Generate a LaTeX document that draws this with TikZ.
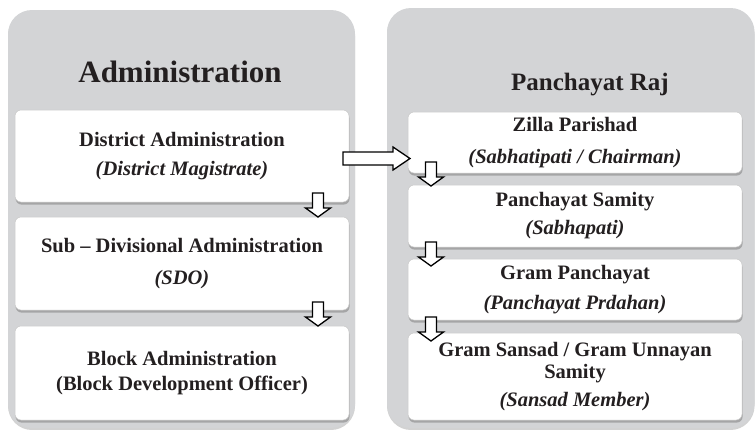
\documentclass[tikz,border=0pt]{standalone}
\usepackage{fontspec}
\setmainfont{Liberation Serif}
\usetikzlibrary{shadows}
\definecolor{panelgray}{HTML}{D3D4D6}
\definecolor{inkc}{HTML}{231F20}
\tikzset{
  panel/.style={fill=panelgray, draw=none, rounded corners=24pt,
    drop shadow={shadow xshift=0pt, shadow yshift=-2pt, fill=black!35, opacity=.5}},
  box/.style={fill=white, draw=black!22, line width=0.5pt, rounded corners=6pt,
    inner sep=0pt, align=center, text=inkc,
    font=\fontsize{20.5}{24}\selectfont\bfseries, minimum width=334pt,
    drop shadow={shadow xshift=0.6pt, shadow yshift=-2.6pt, fill=black!50, opacity=.55}},
  title/.style={anchor=base, text=inkc, inner sep=0pt},
  hollow/.style={draw=black, fill=white, line width=1.3pt, line join=miter},
  downarr/.pic={
    \draw[hollow] (-5.5,0) -- (5.5,0) -- (5.5,15) -- (12.5,15) -- (0,24)
      -- (-12.5,15) -- (-5.5,15) -- cycle;
  },
}
\newcommand{\sub}[1]{{\itshape #1}}
\begin{document}
\begin{tikzpicture}[x=1pt, y=-1pt]
  \useasboundingbox (0,0) rectangle (755,429);

  % the two grey columns
  \path[panel] (8,10) rectangle (355,428);
  \path[panel] (387,8) rectangle (754.5,428);

  \node[title, font=\fontsize{31}{36}\selectfont\bfseries] (tadm) at (180,82) {Administration};
  \node[title, font=\fontsize{25}{30}\selectfont\bfseries] (tpr) at (590,90) {Panchayat Raj};

  % administration column
  \node[box, minimum height=92pt] (a1) at (182,156)
    {District Administration\\[5pt]\sub{(District Magistrate)}};
  \node[box, minimum height=93pt] (a2) at (182,263.5)
    {Sub -- Divisional Administration\\[8pt]\sub{(SDO)}};
  \node[box, minimum height=94pt] (a3) at (182,373)
    {Block Administration\\[1pt](Block Development Officer)};

  % panchayat raj column
  \node[box, minimum height=61pt] (r1) at (575,142.5)
    {Zilla Parishad\\[8pt]\sub{(Sabhatipati / Chairman)}};
  \node[box, minimum height=62pt] (r2) at (575,216)
    {Panchayat Samity\\[4pt]\sub{(Sabhapati)}};
  \node[box, minimum height=61pt] (r3) at (575,289.5)
    {Gram Panchayat\\[6pt]\sub{(Panchayat Prdahan)}};
  \node[box, minimum height=87pt] (r4) at (575,376.5)
    {Gram Sansad / Gram Unnayan\\[-2pt]Samity\\[4pt]\sub{(Sansad Member)}};

  % hollow block arrows between the levels
  \pic at (318,193) {downarr};
  \pic at (318,302) {downarr};
  \pic at (431,162) {downarr};
  \pic at (431,242) {downarr};
  \pic at (431,317) {downarr};

  % link from district administration to zilla parishad
  \draw[hollow] (343,152) -- (393,152) -- (393,147) -- (410,158.5)
    -- (393,170) -- (393,165) -- (343,165) -- cycle;
\end{tikzpicture}
\end{document}
